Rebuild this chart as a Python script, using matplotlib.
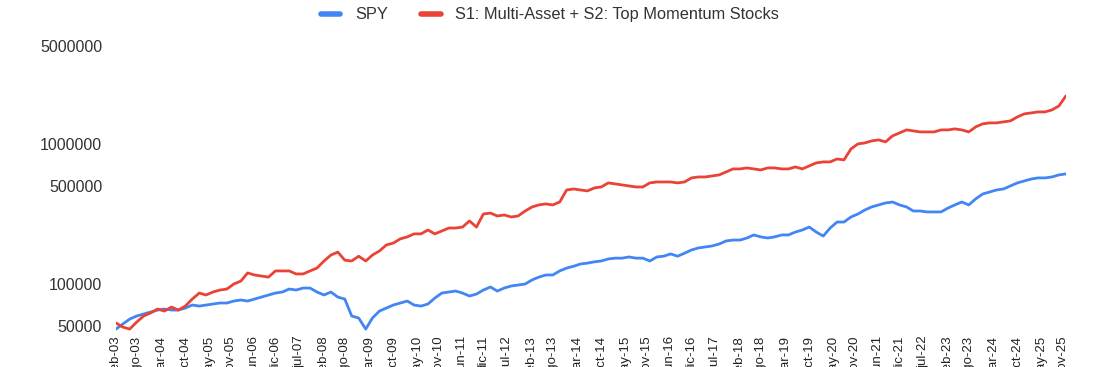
import pandas as pd
import matplotlib.pyplot as plt
import matplotlib.ticker as mticker

plt.rcParams['font.family'] = ['Liberation Sans', 'DejaVu Sans']

# bimonthly values, feb-03 .. dic-25
dates = pd.date_range('2003-02-01', periods=138, freq='2MS')

strategy = [
    52700, 49300, 47700, 53500, 59100, 62100, 66300, 64100, 68500, 65200,
    69600, 78100, 86200, 83500, 87700, 90600, 92100, 100000, 105000, 120000,
    116000, 114000, 112000, 124000, 124000, 124000, 118000, 118000, 124000, 130000,
    146000, 161000, 169000, 148000, 146000, 158000, 146000, 161000, 172000, 190000,
    196000, 210000, 217000, 228000, 228000, 243000, 228000, 239000, 251000, 251000,
    255000, 282000, 255000, 316000, 321000, 306000, 311000, 301000, 306000, 332000,
    355000, 367000, 373000, 367000, 385000, 469000, 477000, 469000, 462000, 485000,
    493000, 527000, 518000, 510000, 501000, 493000, 493000, 527000, 535000, 535000,
    535000, 527000, 535000, 572000, 581000, 581000, 591000, 601000, 631000, 663000,
    663000, 674000, 663000, 652000, 674000, 674000, 663000, 663000, 685000, 663000,
    696000, 732000, 744000, 744000, 781000, 769000, 921000, 1000000, 1017000, 1051000,
    1068000, 1034000, 1141000, 1198000, 1259000, 1238000, 1218000, 1218000, 1218000, 1259000,
    1259000, 1280000, 1259000, 1218000, 1323000, 1390000, 1413000, 1413000, 1436000, 1460000,
    1559000, 1638000, 1665000, 1692000, 1692000, 1749000, 1868000, 2202000,
]

spy = [
    47700, 51800, 56200, 59100, 61100, 63100, 65200, 66300, 65200, 65200,
    67400, 70800, 69600, 70800, 72000, 73200, 73200, 75600, 76900, 75600,
    78100, 80700, 83500, 86200, 87700, 92100, 90600, 93600, 93600, 87700,
    83500, 87700, 80700, 78100, 59100, 57200, 47700, 57200, 64100, 67400,
    70800, 73200, 75600, 70800, 69600, 72000, 79400, 86200, 87700, 89100,
    86200, 82100, 84800, 90600, 95200, 89100, 93600, 96800, 98400, 100000,
    107000, 112000, 116000, 116000, 124000, 130000, 134000, 139000, 141000, 144000,
    146000, 151000, 153000, 153000, 156000, 153000, 153000, 146000, 156000, 158000,
    164000, 158000, 166000, 175000, 181000, 184000, 187000, 193000, 203000, 206000,
    206000, 213000, 224000, 217000, 213000, 217000, 224000, 224000, 235000, 243000,
    255000, 235000, 220000, 251000, 277000, 277000, 301000, 316000, 338000, 355000,
    367000, 379000, 385000, 367000, 355000, 332000, 332000, 327000, 327000, 327000,
    349000, 367000, 385000, 367000, 405000, 439000, 454000, 469000, 477000, 501000,
    527000, 544000, 562000, 572000, 572000, 581000, 601000, 611000,
]

tick_labels = [
    'feb-03', 'ago-03', 'mar-04', 'oct-04', 'may-05', 'nov-05', 'jun-06', 'dic-06',
    'jul-07', 'feb-08', 'ago-08', 'mar-09', 'oct-09', 'may-10', 'nov-10', 'jun-11',
    'dic-11', 'jul-12', 'feb-13', 'ago-13', 'mar-14', 'oct-14', 'may-15', 'nov-15',
    'jun-16', 'dic-16', 'jul-17', 'feb-18', 'ago-18', 'mar-19', 'oct-19', 'may-20',
    'nov-20', 'jun-21', 'dic-21', 'jul-22', 'feb-23', 'ago-23', 'mar-24', 'oct-24',
    'may-25', 'nov-25',
]
tick_dates = pd.to_datetime([
    '2003-02', '2003-08', '2004-03', '2004-10', '2005-05', '2005-11', '2006-06', '2006-12',
    '2007-07', '2008-02', '2008-08', '2009-03', '2009-10', '2010-05', '2010-11', '2011-06',
    '2011-12', '2012-07', '2013-02', '2013-08', '2014-03', '2014-10', '2015-05', '2015-11',
    '2016-06', '2016-12', '2017-07', '2018-02', '2018-08', '2019-03', '2019-10', '2020-05',
    '2020-11', '2021-06', '2021-12', '2022-07', '2023-02', '2023-08', '2024-03', '2024-10',
    '2025-05', '2025-11',
])

y_ticks = [50000, 100000, 500000, 1000000, 5000000]

fig = plt.figure(figsize=(11, 3.67), dpi=100)
ax = fig.add_axes([0.1055, 0.0926, 0.8635, 0.7821])

ax.plot(dates, spy, color='#4285F4', lw=2.0, label='SPY', solid_capstyle='round')
ax.plot(dates, strategy, color='#EA4335', lw=2.0,
        label='S1: Multi-Asset + S2: Top Momentum Stocks', solid_capstyle='round')

ax.set_yscale('log')
ax.set_ylim(44700, 5000000)
ax.yaxis.set_major_locator(mticker.FixedLocator(y_ticks))
ax.yaxis.set_major_formatter(mticker.FixedFormatter([str(v) for v in y_ticks]))
ax.yaxis.set_minor_locator(mticker.NullLocator())

ax.set_xlim(dates[0], dates[-1])
ax.set_xticks(tick_dates)
ax.set_xticklabels(tick_labels, rotation=90, va='top', ha='center')

ax.tick_params(axis='y', length=0, pad=10, labelsize=11.5, labelcolor='#333333')
ax.tick_params(axis='x', length=0, pad=2, labelsize=9.5, labelcolor='#222222')
for s in ax.spines.values():
    s.set_visible(False)

leg = fig.legend(loc='upper center', bbox_to_anchor=(0.5, 1.02), ncol=2, frameon=False,
                 fontsize=11.8, handlelength=1.2, columnspacing=2.0, handletextpad=0.9)
for line in leg.get_lines():
    line.set_linewidth(4)
for t in leg.get_texts():
    t.set_color('#333333')

fig.savefig('out.png', dpi=100)
